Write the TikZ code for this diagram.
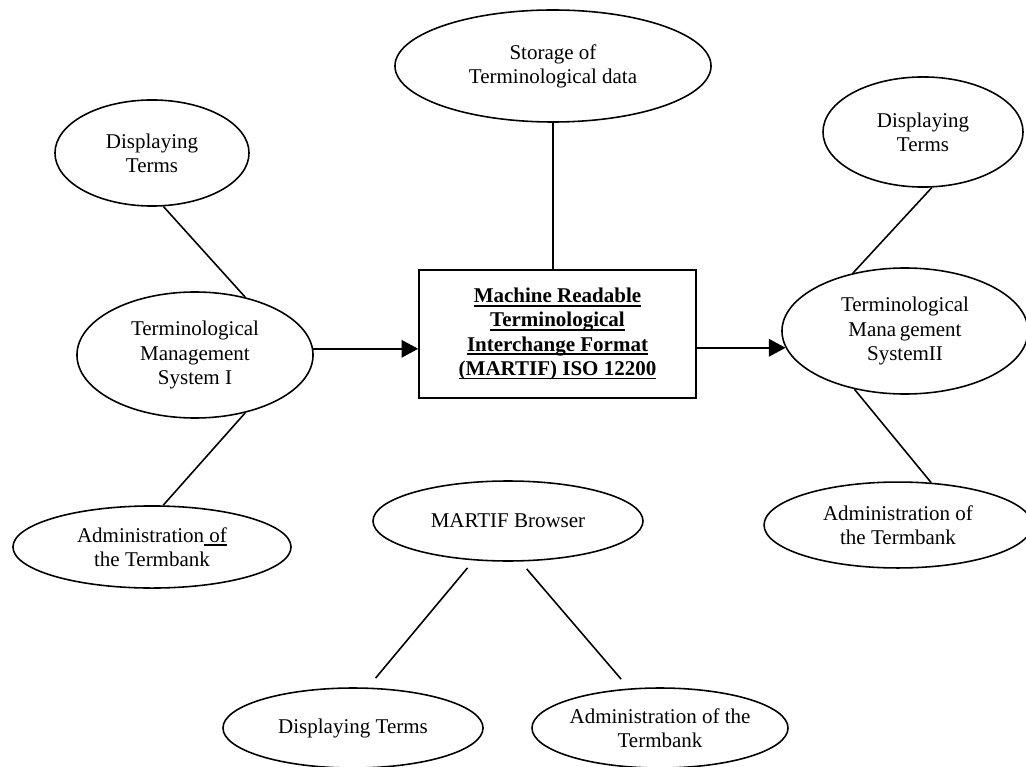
\documentclass[tikz,border=0pt]{standalone}
\usepackage{fontspec}
\setmainfont{Liberation Serif}
\usetikzlibrary{shapes.geometric,arrows.meta}
\newsavebox{\ulbox}
\newcommand{\bul}[1]{\sbox{\ulbox}{#1}\rlap{\rule[-2.2pt]{\wd\ulbox}{0.9pt}}\usebox{\ulbox}}

\begin{document}
\begin{tikzpicture}
  [x=0.5714pt,y=-0.5714pt,font=\fontsize{12}{13.8}\selectfont,
   oval/.style={ellipse,draw,line width=0.9pt,align=center,inner sep=0pt},
   link/.style={line width=0.9pt},
   gapped/.style={shorten <=5.5pt,shorten >=7pt},
   flow/.style={line width=0.9pt,-{Triangle[length=9.5pt,width=10pt]}}]
  \useasboundingbox (0,0) rectangle (1026,767);

  \node[draw,line width=0.9pt,align=center,minimum width=158.3pt,minimum height=73.1pt,font=\fontsize{12}{13.8}\selectfont\bfseries] (martif) at (557.5,334)
    {\bul{Machine Readable}\\\bul{Terminological}\\\bul{Interchange Format}\\\bul{(MARTIF) ISO 12200}};
  \node[oval,minimum width=180.6pt,minimum height=64pt] (store) at (553,66) {Storage of\\Terminological data};

  \node[oval,minimum width=110.9pt,minimum height=60.6pt] (disp1) at (152,153) {Displaying\\Terms};
  \node[oval,minimum width=134.9pt,minimum height=72pt] (tms1) at (195,355) {Terminological\\Management\\System I};
  \node[oval,minimum width=158.9pt,minimum height=46.9pt] (adm1) at (152,547) {Administration\bul{\ of}\\the Termbank};

  \node[oval,minimum width=114.3pt,minimum height=62.9pt] (disp2) at (923,132) {Displaying\\Terms};
  \node[oval,minimum width=140.6pt,minimum height=72pt] (tms2) at (905,331) {Terminological\\Mana\hspace{2pt}gement\\SystemII};
  \node[oval,minimum width=153.1pt,minimum height=49.1pt] (adm2) at (898,525) {Administration of\\the Termbank};

  \node[oval,minimum width=154.3pt,minimum height=45.7pt] (browser) at (508,521) {MARTIF Browser};
  \node[oval,minimum width=148.6pt,minimum height=45.7pt] (disp3) at (353,728) {Displaying Terms};
  \node[oval,minimum width=146.3pt,minimum height=45.7pt] (adm3) at (660,728) {Administration of the\\Termbank};

  \draw[link] (store.south) -- (store.south |- martif.north);

  \draw[link] (disp1.-78) -- (tms1.49);
  \draw[link] (tms1.-49) -- (adm1.75);
  \draw[flow] (tms1.3) -- (tms1.3 -| martif.west);

  \draw[link] (disp2.-81) -- (tms2.132);
  \draw[link] (tms2.-131) -- (adm2.52);
  \draw[flow] (tms2.188 -| martif.east) -- (tms2.188);

  \draw[link,gapped] (browser.-131) -- (disp3.70);
  \draw[link,gapped] (browser.-73) -- (adm3.128);
\end{tikzpicture}
\end{document}
